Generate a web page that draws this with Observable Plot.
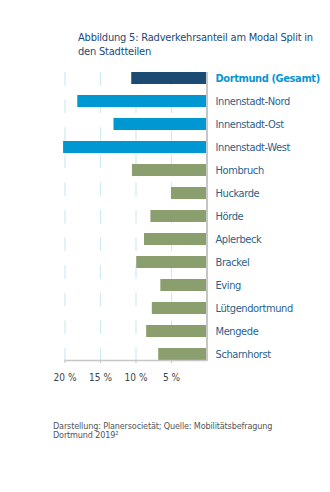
<!DOCTYPE html>
<html>
<head>
<meta charset="utf-8">
<script src="https://cdn.jsdelivr.net/npm/d3@7"></script>
<script src="https://cdn.jsdelivr.net/npm/@observablehq/plot@0.6"></script>
<style>
  html, body { margin: 0; padding: 0; background: #fff; }
  body { width: 330px; height: 492px; position: relative; overflow: hidden;
         font-family: "DejaVu Sans Condensed", "Liberation Sans Narrow", sans-serif; }
  #title { position: absolute; left: 78px; top: 31px; font-size: 11px; line-height: 14px;
           letter-spacing: -0.2px; color: #1c4a76; white-space: nowrap; }
  #chart { position: absolute; left: 0; top: 64px; }
  #caption { position: absolute; left: 53px; top: 422px; font-size: 9px; line-height: 8.5px;
             letter-spacing: -0.15px; color: #555; white-space: nowrap; }
  #chart g[aria-label="text"] text { letter-spacing: -0.4px; }
</style>
</head>
<body>
<div id="title">Abbildung 5: Radverkehrsanteil am Modal Split in<br>den Stadtteilen</div>
<div id="chart"></div>
<div id="caption">Darstellung: Planersocietät; Quelle: Mobilitätsbefragung<br>Dortmund 2019²</div>
<script>
const districts = ["Dortmund (Gesamt)", "Innenstadt-Nord", "Innenstadt-Ost", "Innenstadt-West",
  "Hombruch", "Huckarde", "Hörde", "Aplerbeck", "Brackel", "Eving", "Lütgendortmund", "Mengede", "Scharnhorst"];
const shares = [10.6, 18.2, 13.1, 20.2, 10.5, 5.0, 7.9, 8.8, 9.9, 6.5, 7.7, 8.5, 6.8];
const groups = ["gesamt", "innenstadt", "innenstadt", "innenstadt",
  "stadtbezirk", "stadtbezirk", "stadtbezirk", "stadtbezirk", "stadtbezirk", "stadtbezirk", "stadtbezirk", "stadtbezirk", "stadtbezirk"];
const tickValues = [20, 15, 10, 5];
const tickLabels = ["20 %", "15 %", "10 %", "5 %"];

const groupColors = {gesamt: "#1b4a72", innenstadt: "#0098d3", stadtbezirk: "#8a9e6e"};
const labelColors = {gesamt: "#0a95d2", innenstadt: "#2d5f8c", stadtbezirk: "#2d5f8c"};

const data = districts.map((d, i) => ({district: d, share: shares[i], group: groups[i]}));
const fontStack = '"DejaVu Sans Condensed", "Liberation Sans Narrow", sans-serif';

const chart = Plot.plot({
  width: 330,
  height: 328,
  marginTop: 8,
  marginBottom: 32,
  marginLeft: 64.5,
  marginRight: 123.5,
  style: {fontFamily: fontStack, background: "transparent"},
  x: {domain: [20, 0], axis: null},
  y: {domain: districts, paddingInner: 0.5, paddingOuter: 0, axis: null},
  color: {type: "identity"},
  marks: [
    Plot.ruleX(tickValues, {stroke: "#cfe9f6", strokeWidth: 1.2, strokeDasharray: "13.5,14.1"}),
    Plot.barX(data, {x: "share", y: "district", fill: d => groupColors[d.group]}),
    Plot.ruleX([0], {stroke: "#c6c6c6", strokeWidth: 2}),
    Plot.frame({anchor: "bottom", stroke: "#c6c6c6", strokeWidth: 1.5}),
    Plot.axisX({ticks: tickValues, tickFormat: d => tickLabels[tickValues.indexOf(d)], tickSize: 3, tickPadding: 10,
      stroke: "#c6c6c6", color: "#444", fontSize: 10, label: null}),
    Plot.text(data.filter(d => d.group !== "gesamt"), {x: 0, y: "district", text: "district", dx: 8.5,
      textAnchor: "start", fill: d => labelColors[d.group], fontSize: 11}),
    Plot.text(data.filter(d => d.group === "gesamt"), {x: 0, y: "district", text: "district", dx: 8.5,
      textAnchor: "start", fill: d => labelColors[d.group], fontSize: 11, fontWeight: "bold"})
  ]
});
document.getElementById("chart").appendChild(chart);
</script>
</body>
</html>
